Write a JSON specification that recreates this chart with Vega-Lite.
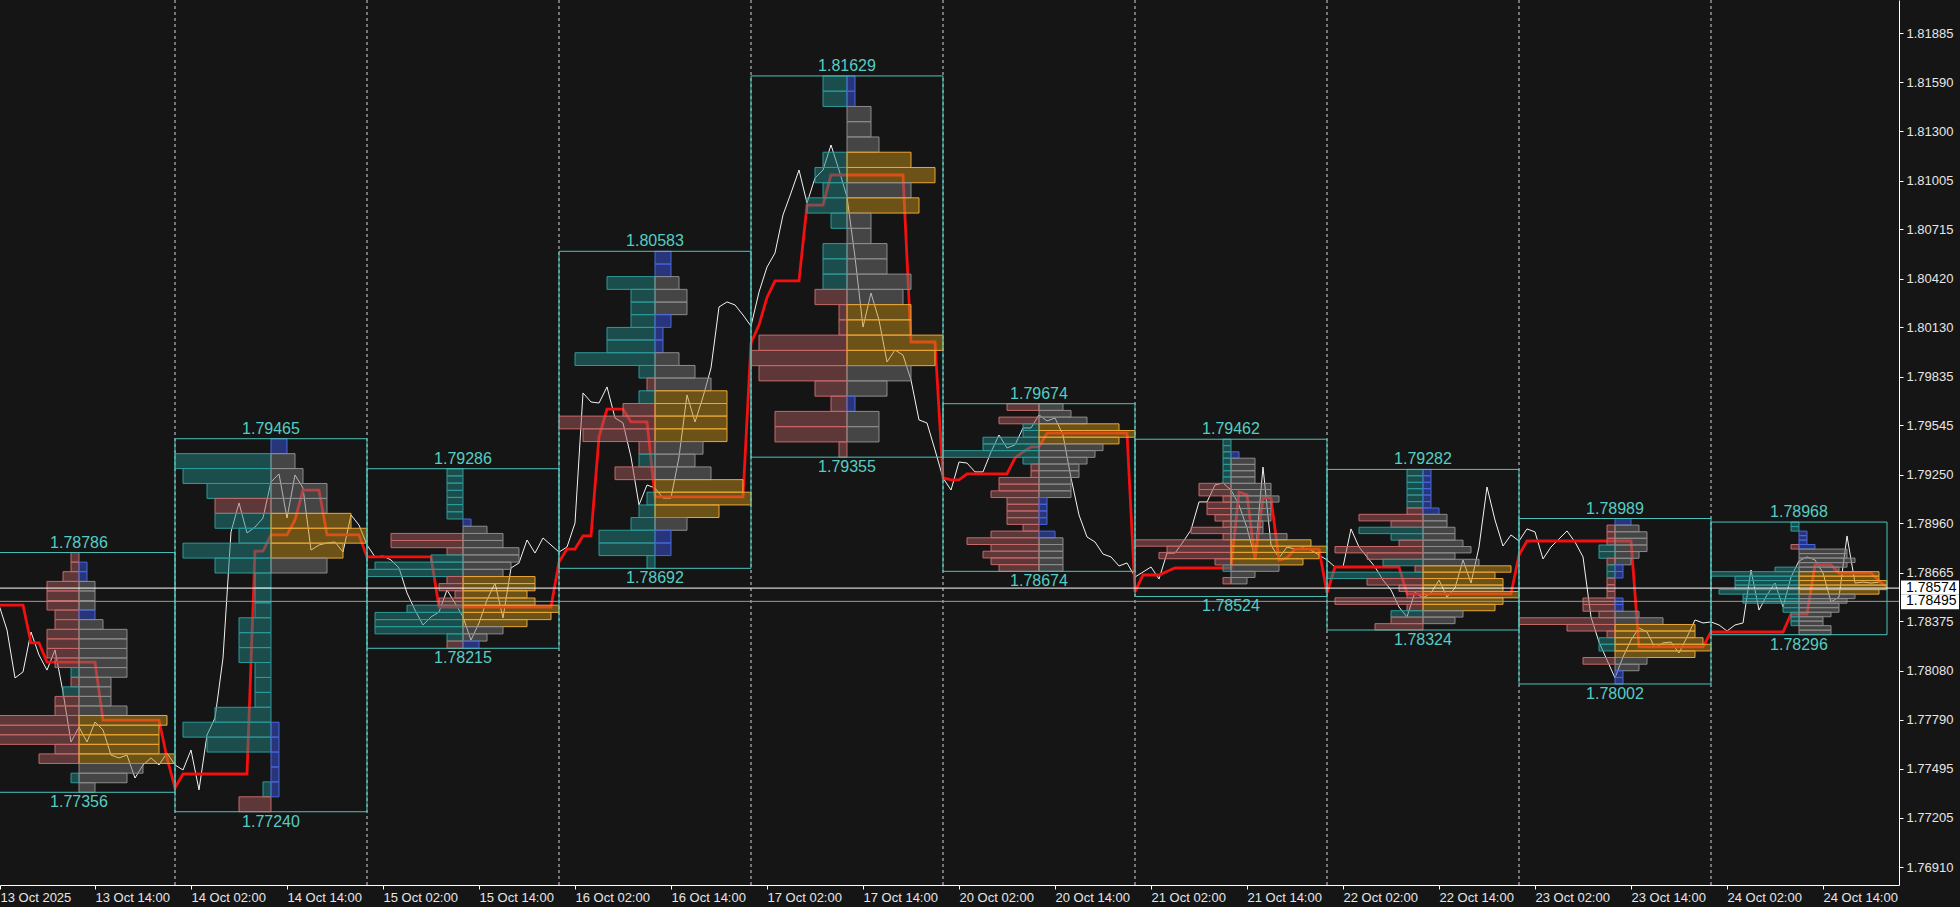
{
"$schema":"https://vega.github.io/schema/vega-lite/v6.json",
"width":1899,"height":885,
"autosize":{"type":"none"},
"padding":{"left":0,"top":0,"right":61,"bottom":22},
"background":"#151515",
"config":{"view":{"stroke":null},"font":"Liberation Sans"},
"datasets":{
"days":[
{"s":0,"e":24,"c":12,"hi":1.78786,"lo":1.77356},
{"s":24,"e":48,"c":36,"hi":1.79465,"lo":1.77240},
{"s":48,"e":72,"c":60,"hi":1.79286,"lo":1.78215},
{"s":72,"e":96,"c":84,"hi":1.80583,"lo":1.78692},
{"s":96,"e":120,"c":108,"hi":1.81629,"lo":1.79355},
{"s":120,"e":144,"c":132,"hi":1.79674,"lo":1.78674},
{"s":144,"e":168,"c":156,"hi":1.79462,"lo":1.78524},
{"s":168,"e":192,"c":180,"hi":1.79282,"lo":1.78324},
{"s":192,"e":216,"c":204,"hi":1.78989,"lo":1.78002},
{"s":216,"e":238,"c":227,"hi":1.78968,"lo":1.78296}
],
"white":[
{"h":2,"p":1.78473},{"h":3,"p":1.78324},{"h":4,"p":1.78038},{"h":5,"p":1.78074},{"h":6,"p":1.78312},{"h":7,"p":1.78175},{"h":8,"p":1.78085},{"h":9,"p":1.78205},{"h":10,"p":1.77954},{"h":11,"p":1.77656},{"h":12,"p":1.77745},{"h":13,"p":1.77656},{"h":14,"p":1.77775},{"h":15,"p":1.77728},{"h":16,"p":1.77578},{"h":17,"p":1.77561},{"h":18,"p":1.77578},{"h":19,"p":1.77441},{"h":20,"p":1.77519},{"h":21,"p":1.77561},{"h":22,"p":1.77519},{"h":23,"p":1.77590},{"h":24,"p":1.77519},{"h":25,"p":1.77489},{"h":26,"p":1.77608},{"h":27,"p":1.77370},{"h":28,"p":1.77698},{"h":29,"p":1.77799},{"h":30,"p":1.78157},{"h":31,"p":1.78909},{"h":32,"p":1.79082},{"h":33,"p":1.78903},{"h":34,"p":1.78938},{"h":35,"p":1.78992},{"h":36,"p":1.79207},{"h":37,"p":1.79255},{"h":38,"p":1.78992},{"h":39,"p":1.79249},{"h":40,"p":1.79171},{"h":41,"p":1.78801},{"h":42,"p":1.78831},{"h":43,"p":1.78843},{"h":44,"p":1.78849},{"h":45,"p":1.78789},{"h":46,"p":1.79010},{"h":47,"p":1.78950},{"h":48,"p":1.78831},{"h":49,"p":1.78760},{"h":50,"p":1.78765},{"h":51,"p":1.78742},{"h":52,"p":1.78694},{"h":53,"p":1.78545},{"h":54,"p":1.78443},{"h":55,"p":1.78354},{"h":56,"p":1.78402},{"h":57,"p":1.78431},{"h":58,"p":1.78563},{"h":59,"p":1.78485},{"h":60,"p":1.78402},{"h":61,"p":1.78264},{"h":62,"p":1.78366},{"h":63,"p":1.78503},{"h":64,"p":1.78604},{"h":65,"p":1.78396},{"h":66,"p":1.78694},{"h":67,"p":1.78724},{"h":68,"p":1.78861},{"h":69,"p":1.78783},{"h":70,"p":1.78873},{"h":71,"p":1.78831},{"h":72,"p":1.78789},{"h":73,"p":1.78819},{"h":74,"p":1.78962},{"h":75,"p":1.79738},{"h":76,"p":1.79684},{"h":77,"p":1.79678},{"h":78,"p":1.79774},{"h":79,"p":1.79589},{"h":80,"p":1.79559},{"h":81,"p":1.79356},{"h":82,"p":1.79070},{"h":83,"p":1.79189},{"h":84,"p":1.79171},{"h":85,"p":1.79111},{"h":86,"p":1.79111},{"h":87,"p":1.79356},{"h":88,"p":1.79726},{"h":89,"p":1.79565},{"h":90,"p":1.79714},{"h":91,"p":1.79887},{"h":92,"p":1.80251},{"h":93,"p":1.80281},{"h":94,"p":1.80263},{"h":95,"p":1.80203},{"h":96,"p":1.80137},{"h":97,"p":1.80340},{"h":98,"p":1.80489},{"h":99,"p":1.80573},{"h":100,"p":1.80800},{"h":101,"p":1.80931},{"h":102,"p":1.81068},{"h":103,"p":1.80871},{"h":104,"p":1.81020},{"h":105,"p":1.81068},{"h":106,"p":1.81217},{"h":107,"p":1.81068},{"h":108,"p":1.80907},{"h":109,"p":1.80549},{"h":110,"p":1.80131},{"h":111,"p":1.80334},{"h":112,"p":1.80173},{"h":113,"p":1.79923},{"h":114,"p":1.79994},{"h":115,"p":1.79964},{"h":116,"p":1.79815},{"h":117,"p":1.79577},{"h":118,"p":1.79559},{"h":119,"p":1.79398},{"h":120,"p":1.79231},{"h":121,"p":1.79159},{"h":122,"p":1.79326},{"h":123,"p":1.79320},{"h":124,"p":1.79267},{"h":125,"p":1.79267},{"h":126,"p":1.79386},{"h":127,"p":1.79487},{"h":128,"p":1.79410},{"h":129,"p":1.79428},{"h":130,"p":1.79529},{"h":131,"p":1.79529},{"h":132,"p":1.79607},{"h":133,"p":1.79571},{"h":134,"p":1.79589},{"h":135,"p":1.79487},{"h":136,"p":1.79231},{"h":137,"p":1.79010},{"h":138,"p":1.78879},{"h":139,"p":1.78849},{"h":140,"p":1.78777},{"h":141,"p":1.78760},{"h":142,"p":1.78706},{"h":143,"p":1.78724},{"h":144,"p":1.78640},{"h":145,"p":1.78670},{"h":146,"p":1.78700},{"h":147,"p":1.78628},{"h":148,"p":1.78783},{"h":149,"p":1.78783},{"h":150,"p":1.78849},{"h":151,"p":1.78921},{"h":152,"p":1.79088},{"h":153,"p":1.79088},{"h":154,"p":1.79189},{"h":155,"p":1.79201},{"h":156,"p":1.79159},{"h":157,"p":1.79070},{"h":158,"p":1.78933},{"h":159,"p":1.78754},{"h":160,"p":1.79296},{"h":161,"p":1.78831},{"h":162,"p":1.78754},{"h":163,"p":1.78819},{"h":164,"p":1.78807},{"h":165,"p":1.78813},{"h":166,"p":1.78801},{"h":167,"p":1.78771},{"h":168,"p":1.78742},{"h":169,"p":1.78700},{"h":170,"p":1.78700},{"h":171,"p":1.78927},{"h":172,"p":1.78819},{"h":173,"p":1.78760},{"h":174,"p":1.78700},{"h":175,"p":1.78622},{"h":176,"p":1.78563},{"h":177,"p":1.78461},{"h":178,"p":1.78402},{"h":179,"p":1.78551},{"h":180,"p":1.78515},{"h":181,"p":1.78545},{"h":182,"p":1.78622},{"h":183,"p":1.78521},{"h":184,"p":1.78575},{"h":185,"p":1.78742},{"h":186,"p":1.78604},{"h":187,"p":1.78819},{"h":188,"p":1.79177},{"h":189,"p":1.78980},{"h":190,"p":1.78825},{"h":191,"p":1.78891},{"h":192,"p":1.78855},{"h":193,"p":1.78927},{"h":194,"p":1.78909},{"h":195,"p":1.78748},{"h":196,"p":1.78819},{"h":197,"p":1.78867},{"h":198,"p":1.78915},{"h":199,"p":1.78849},{"h":200,"p":1.78760},{"h":201,"p":1.78402},{"h":202,"p":1.78252},{"h":203,"p":1.78145},{"h":204,"p":1.78038},{"h":205,"p":1.78163},{"h":206,"p":1.78264},{"h":207,"p":1.78336},{"h":208,"p":1.78312},{"h":209,"p":1.78217},{"h":210,"p":1.78247},{"h":211,"p":1.78252},{"h":212,"p":1.78187},{"h":213,"p":1.78282},{"h":214,"p":1.78384},{"h":215,"p":1.78366},{"h":216,"p":1.78372},{"h":217,"p":1.78354},{"h":218,"p":1.78318},{"h":219,"p":1.78354},{"h":220,"p":1.78366},{"h":221,"p":1.78682},{"h":222,"p":1.78443},{"h":223,"p":1.78533},{"h":224,"p":1.78604},{"h":225,"p":1.78461},{"h":226,"p":1.78640},{"h":227,"p":1.78736},{"h":228,"p":1.78760},{"h":229,"p":1.78742},{"h":230,"p":1.78664},{"h":231,"p":1.78491},{"h":232,"p":1.78521},{"h":233,"p":1.78885},{"h":234,"p":1.78604},{"h":235,"p":1.78610},{"h":236,"p":1.78604},{"h":237,"p":1.78610},{"h":238,"p":1.78587}
],
"red":[
{"h":2,"p":1.78473},{"h":5,"p":1.78473},{"h":6,"p":1.78247},{"h":7,"p":1.78247},{"h":8,"p":1.78133},{"h":14,"p":1.78133},{"h":15,"p":1.77787},{"h":22,"p":1.77787},{"h":23,"p":1.77561},{"h":24,"p":1.77382},{"h":25,"p":1.77465},{"h":33,"p":1.77465},{"h":34,"p":1.78795},{"h":35,"p":1.78795},{"h":36,"p":1.78891},{"h":38,"p":1.78891},{"h":39,"p":1.78980},{"h":40,"p":1.79159},{"h":42,"p":1.79159},{"h":43,"p":1.78891},{"h":47,"p":1.78891},{"h":48,"p":1.78760},{"h":56,"p":1.78760},{"h":57,"p":1.78461},{"h":71,"p":1.78461},{"h":72,"p":1.78730},{"h":73,"p":1.78807},{"h":74,"p":1.78807},{"h":75,"p":1.78885},{"h":76,"p":1.78885},{"h":77,"p":1.79475},{"h":78,"p":1.79642},{"h":80,"p":1.79642},{"h":81,"p":1.79565},{"h":83,"p":1.79565},{"h":84,"p":1.79118},{"h":95,"p":1.79118},{"h":96,"p":1.80036},{"h":97,"p":1.80143},{"h":98,"p":1.80308},{"h":99,"p":1.80406},{"h":102,"p":1.80406},{"h":103,"p":1.80859},{"h":105,"p":1.80859},{"h":106,"p":1.81038},{"h":115,"p":1.81038},{"h":116,"p":1.80042},{"h":119,"p":1.80042},{"h":120,"p":1.79231},{"h":121,"p":1.79219},{"h":122,"p":1.79219},{"h":123,"p":1.79255},{"h":128,"p":1.79255},{"h":129,"p":1.79350},{"h":130,"p":1.79386},{"h":131,"p":1.79416},{"h":132,"p":1.79416},{"h":133,"p":1.79499},{"h":143,"p":1.79499},{"h":144,"p":1.78551},{"h":145,"p":1.78652},{"h":147,"p":1.78652},{"h":149,"p":1.78694},{"h":156,"p":1.78694},{"h":157,"p":1.79147},{"h":158,"p":1.79130},{"h":159,"p":1.78742},{"h":160,"p":1.79111},{"h":161,"p":1.79111},{"h":162,"p":1.78742},{"h":163,"p":1.78754},{"h":164,"p":1.78807},{"h":167,"p":1.78807},{"h":168,"p":1.78545},{"h":169,"p":1.78700},{"h":177,"p":1.78700},{"h":178,"p":1.78539},{"h":191,"p":1.78539},{"h":192,"p":1.78771},{"h":193,"p":1.78855},{"h":206,"p":1.78855},{"h":207,"p":1.78223},{"h":215,"p":1.78223},{"h":216,"p":1.78312},{"h":225,"p":1.78312},{"h":226,"p":1.78419},{"h":228,"p":1.78419},{"h":229,"p":1.78712},{"h":231,"p":1.78712},{"h":232,"p":1.78664},{"h":236,"p":1.78664},{"h":237,"p":1.78616},{"h":238,"p":1.78580}
],
"prof":[
{"c":12,"t":1.78786,"b":1.78729,"L":11,"lc":"r"},
{"c":12,"t":1.78729,"b":1.78672,"L":11,"lc":"r","R":13,"rc":"b"},
{"c":12,"t":1.78672,"b":1.78614,"L":10,"lc":"r","R":13,"rc":"b"},
{"c":12,"t":1.78614,"b":1.78557,"L":8,"lc":"r","R":14,"rc":"g"},
{"c":12,"t":1.78557,"b":1.78500,"L":8,"lc":"r","R":14,"rc":"g"},
{"c":12,"t":1.78500,"b":1.78443,"L":8,"lc":"r","R":14,"rc":"g"},
{"c":12,"t":1.78443,"b":1.78386,"L":9,"lc":"r","R":14,"rc":"b"},
{"c":12,"t":1.78386,"b":1.78328,"L":9,"lc":"r","R":15,"rc":"g"},
{"c":12,"t":1.78328,"b":1.78271,"L":8,"lc":"r","R":18,"rc":"g"},
{"c":12,"t":1.78271,"b":1.78214,"L":8,"lc":"r","R":18,"rc":"g"},
{"c":12,"t":1.78214,"b":1.78157,"L":8,"lc":"r","R":18,"rc":"g"},
{"c":12,"t":1.78157,"b":1.78100,"L":9,"lc":"r","R":18,"rc":"g"},
{"c":12,"t":1.78100,"b":1.78042,"L":11,"lc":"t","R":18,"rc":"g"},
{"c":12,"t":1.78042,"b":1.77985,"L":11,"lc":"r","R":16,"rc":"g"},
{"c":12,"t":1.77985,"b":1.77928,"L":10,"lc":"t","R":16,"rc":"g"},
{"c":12,"t":1.77928,"b":1.77871,"L":9,"lc":"r","R":16,"rc":"g"},
{"c":12,"t":1.77871,"b":1.77814,"L":9,"lc":"r","R":18,"rc":"g"},
{"c":12,"t":1.77814,"b":1.77756,"L":1,"lc":"r","R":23,"rc":"o"},
{"c":12,"t":1.77756,"b":1.77699,"L":1,"lc":"r","R":22,"rc":"o"},
{"c":12,"t":1.77699,"b":1.77642,"L":1,"lc":"r","R":22,"rc":"o"},
{"c":12,"t":1.77642,"b":1.77585,"L":9,"lc":"r","R":22,"rc":"o"},
{"c":12,"t":1.77585,"b":1.77528,"L":7,"lc":"r","R":24,"rc":"o"},
{"c":12,"t":1.77528,"b":1.77470,"R":20,"rc":"g"},
{"c":12,"t":1.77470,"b":1.77413,"L":11,"lc":"t","R":18,"rc":"g"},
{"c":12,"t":1.77413,"b":1.77356,"R":14,"rc":"g"},
{"c":36,"t":1.79465,"b":1.79376,"R":38,"rc":"b"},
{"c":36,"t":1.79376,"b":1.79287,"L":24,"lc":"t","R":39,"rc":"g"},
{"c":36,"t":1.79287,"b":1.79198,"L":25,"lc":"t","R":40,"rc":"g"},
{"c":36,"t":1.79198,"b":1.79109,"L":28,"lc":"t","R":43,"rc":"g"},
{"c":36,"t":1.79109,"b":1.79020,"L":29,"lc":"r","R":43,"rc":"g"},
{"c":36,"t":1.79020,"b":1.78931,"L":29,"lc":"t","R":46,"rc":"o"},
{"c":36,"t":1.78931,"b":1.78842,"L":32,"lc":"t","R":48,"rc":"o"},
{"c":36,"t":1.78842,"b":1.78753,"L":25,"lc":"t","R":45,"rc":"o"},
{"c":36,"t":1.78753,"b":1.78664,"L":29,"lc":"t","R":43,"rc":"g"},
{"c":36,"t":1.78664,"b":1.78575,"L":34,"lc":"t"},
{"c":36,"t":1.78575,"b":1.78486,"L":34,"lc":"t"},
{"c":36,"t":1.78486,"b":1.78397,"L":34,"lc":"t"},
{"c":36,"t":1.78397,"b":1.78308,"L":32,"lc":"t"},
{"c":36,"t":1.78308,"b":1.78219,"L":32,"lc":"t"},
{"c":36,"t":1.78219,"b":1.78130,"L":32,"lc":"t"},
{"c":36,"t":1.78130,"b":1.78041,"L":34,"lc":"t"},
{"c":36,"t":1.78041,"b":1.77952,"L":34,"lc":"t"},
{"c":36,"t":1.77952,"b":1.77863,"L":34,"lc":"t"},
{"c":36,"t":1.77863,"b":1.77774,"L":29,"lc":"t"},
{"c":36,"t":1.77774,"b":1.77685,"L":25,"lc":"t","R":37,"rc":"b"},
{"c":36,"t":1.77685,"b":1.77596,"L":28,"lc":"t","R":37,"rc":"b"},
{"c":36,"t":1.77596,"b":1.77507,"R":37,"rc":"b"},
{"c":36,"t":1.77507,"b":1.77418,"R":37,"rc":"b"},
{"c":36,"t":1.77418,"b":1.77329,"L":35,"lc":"t","R":37,"rc":"b"},
{"c":36,"t":1.77329,"b":1.77240,"L":32,"lc":"r"},
{"c":60,"t":1.79286,"b":1.79243,"L":58,"lc":"t"},
{"c":60,"t":1.79243,"b":1.79200,"L":58,"lc":"t"},
{"c":60,"t":1.79200,"b":1.79157,"L":58,"lc":"t"},
{"c":60,"t":1.79157,"b":1.79115,"L":58,"lc":"t"},
{"c":60,"t":1.79115,"b":1.79072,"L":58,"lc":"t"},
{"c":60,"t":1.79072,"b":1.79029,"L":58,"lc":"t"},
{"c":60,"t":1.79029,"b":1.78986,"L":58,"lc":"t"},
{"c":60,"t":1.78986,"b":1.78943,"R":61,"rc":"b"},
{"c":60,"t":1.78943,"b":1.78900,"R":63,"rc":"g"},
{"c":60,"t":1.78900,"b":1.78858,"L":51,"lc":"r","R":65,"rc":"g"},
{"c":60,"t":1.78858,"b":1.78815,"L":51,"lc":"r","R":65,"rc":"g"},
{"c":60,"t":1.78815,"b":1.78772,"L":58,"lc":"r","R":67,"rc":"g"},
{"c":60,"t":1.78772,"b":1.78729,"L":56,"lc":"t","R":67,"rc":"g"},
{"c":60,"t":1.78729,"b":1.78686,"L":49,"lc":"t","R":66,"rc":"g"},
{"c":60,"t":1.78686,"b":1.78643,"L":48,"lc":"t","R":65,"rc":"g"},
{"c":60,"t":1.78643,"b":1.78601,"L":58,"lc":"r","R":69,"rc":"o"},
{"c":60,"t":1.78601,"b":1.78558,"L":57,"lc":"r","R":69,"rc":"o"},
{"c":60,"t":1.78558,"b":1.78515,"L":59,"lc":"r","R":68,"rc":"o"},
{"c":60,"t":1.78515,"b":1.78472,"L":57,"lc":"r","R":69,"rc":"o"},
{"c":60,"t":1.78472,"b":1.78429,"L":53,"lc":"t","R":72,"rc":"o"},
{"c":60,"t":1.78429,"b":1.78386,"L":49,"lc":"t","R":71,"rc":"o"},
{"c":60,"t":1.78386,"b":1.78344,"L":49,"lc":"t","R":68,"rc":"o"},
{"c":60,"t":1.78344,"b":1.78301,"L":49,"lc":"t","R":65,"rc":"g"},
{"c":60,"t":1.78301,"b":1.78258,"L":58,"lc":"t","R":63,"rc":"g"},
{"c":60,"t":1.78258,"b":1.78215,"L":58,"lc":"r","R":62,"rc":"b"},
{"c":84,"t":1.80583,"b":1.80507,"R":86,"rc":"b"},
{"c":84,"t":1.80507,"b":1.80432,"R":86,"rc":"b"},
{"c":84,"t":1.80432,"b":1.80356,"L":78,"lc":"t","R":87,"rc":"g"},
{"c":84,"t":1.80356,"b":1.80280,"L":81,"lc":"t","R":88,"rc":"g"},
{"c":84,"t":1.80280,"b":1.80205,"L":81,"lc":"t","R":88,"rc":"g"},
{"c":84,"t":1.80205,"b":1.80129,"L":81,"lc":"t","R":86,"rc":"b"},
{"c":84,"t":1.80129,"b":1.80054,"L":78,"lc":"t","R":85,"rc":"b"},
{"c":84,"t":1.80054,"b":1.79978,"L":78,"lc":"t","R":85,"rc":"b"},
{"c":84,"t":1.79978,"b":1.79902,"L":74,"lc":"t","R":87,"rc":"g"},
{"c":84,"t":1.79902,"b":1.79827,"L":82,"lc":"t","R":89,"rc":"g"},
{"c":84,"t":1.79827,"b":1.79751,"L":83,"lc":"r","R":91,"rc":"g"},
{"c":84,"t":1.79751,"b":1.79675,"L":82,"lc":"t","R":93,"rc":"o"},
{"c":84,"t":1.79675,"b":1.79600,"L":80,"lc":"r","R":93,"rc":"o"},
{"c":84,"t":1.79600,"b":1.79524,"L":72,"lc":"r","R":93,"rc":"o"},
{"c":84,"t":1.79524,"b":1.79448,"L":75,"lc":"r","R":93,"rc":"o"},
{"c":84,"t":1.79448,"b":1.79373,"L":82,"lc":"r","R":90,"rc":"g"},
{"c":84,"t":1.79373,"b":1.79297,"L":82,"lc":"t","R":89,"rc":"g"},
{"c":84,"t":1.79297,"b":1.79221,"L":79,"lc":"r","R":91,"rc":"g"},
{"c":84,"t":1.79221,"b":1.79146,"R":95,"rc":"o"},
{"c":84,"t":1.79146,"b":1.79070,"L":83,"lc":"t","R":96,"rc":"o"},
{"c":84,"t":1.79070,"b":1.78995,"L":82,"lc":"t","R":92,"rc":"o"},
{"c":84,"t":1.78995,"b":1.78919,"L":81,"lc":"t","R":88,"rc":"g"},
{"c":84,"t":1.78919,"b":1.78843,"L":77,"lc":"t","R":86,"rc":"b"},
{"c":84,"t":1.78843,"b":1.78768,"L":77,"lc":"t","R":86,"rc":"b"},
{"c":84,"t":1.78768,"b":1.78692,"L":83,"lc":"t"},
{"c":108,"t":1.81629,"b":1.81538,"L":105,"lc":"t","R":109,"rc":"b"},
{"c":108,"t":1.81538,"b":1.81447,"L":105,"lc":"t","R":109,"rc":"b"},
{"c":108,"t":1.81447,"b":1.81356,"R":111,"rc":"g"},
{"c":108,"t":1.81356,"b":1.81265,"R":111,"rc":"g"},
{"c":108,"t":1.81265,"b":1.81174,"R":112,"rc":"g"},
{"c":108,"t":1.81174,"b":1.81083,"L":105,"lc":"t","R":116,"rc":"o"},
{"c":108,"t":1.81083,"b":1.80992,"L":104,"lc":"t","R":119,"rc":"o"},
{"c":108,"t":1.80992,"b":1.80902,"L":105,"lc":"t","R":116,"rc":"g"},
{"c":108,"t":1.80902,"b":1.80811,"L":103,"lc":"t","R":117,"rc":"o"},
{"c":108,"t":1.80811,"b":1.80720,"L":106,"lc":"t","R":111,"rc":"g"},
{"c":108,"t":1.80720,"b":1.80629,"R":111,"rc":"g"},
{"c":108,"t":1.80629,"b":1.80538,"L":105,"lc":"t","R":113,"rc":"g"},
{"c":108,"t":1.80538,"b":1.80447,"L":105,"lc":"t","R":113,"rc":"g"},
{"c":108,"t":1.80447,"b":1.80356,"L":105,"lc":"t","R":116,"rc":"g"},
{"c":108,"t":1.80356,"b":1.80265,"L":104,"lc":"r","R":115,"rc":"g"},
{"c":108,"t":1.80265,"b":1.80174,"L":107,"lc":"r","R":116,"rc":"o"},
{"c":108,"t":1.80174,"b":1.80083,"L":107,"lc":"r","R":116,"rc":"o"},
{"c":108,"t":1.80083,"b":1.79992,"L":97,"lc":"r","R":120,"rc":"o"},
{"c":108,"t":1.79992,"b":1.79901,"L":96,"lc":"r","R":119,"rc":"o"},
{"c":108,"t":1.79901,"b":1.79810,"L":97,"lc":"r","R":116,"rc":"g"},
{"c":108,"t":1.79810,"b":1.79719,"L":104,"lc":"r","R":113,"rc":"g"},
{"c":108,"t":1.79719,"b":1.79628,"L":106,"lc":"r","R":109,"rc":"b"},
{"c":108,"t":1.79628,"b":1.79537,"L":99,"lc":"r","R":112,"rc":"g"},
{"c":108,"t":1.79537,"b":1.79446,"L":99,"lc":"r","R":112,"rc":"g"},
{"c":108,"t":1.79446,"b":1.79355,"L":107,"lc":"r"},
{"c":132,"t":1.79674,"b":1.79634,"L":128,"lc":"r","R":135,"rc":"g"},
{"c":132,"t":1.79634,"b":1.79594,"R":136,"rc":"g"},
{"c":132,"t":1.79594,"b":1.79554,"L":127,"lc":"r","R":138,"rc":"g"},
{"c":132,"t":1.79554,"b":1.79514,"L":130,"lc":"t","R":142,"rc":"o"},
{"c":132,"t":1.79514,"b":1.79474,"L":130,"lc":"t","R":144,"rc":"o"},
{"c":132,"t":1.79474,"b":1.79434,"L":125,"lc":"t","R":142,"rc":"o"},
{"c":132,"t":1.79434,"b":1.79394,"L":125,"lc":"t","R":140,"rc":"g"},
{"c":132,"t":1.79394,"b":1.79354,"L":120,"lc":"t","R":139,"rc":"g"},
{"c":132,"t":1.79354,"b":1.79314,"L":130,"lc":"t","R":138,"rc":"g"},
{"c":132,"t":1.79314,"b":1.79274,"L":131,"lc":"r","R":137,"rc":"g"},
{"c":132,"t":1.79274,"b":1.79234,"L":131,"lc":"r","R":137,"rc":"g"},
{"c":132,"t":1.79234,"b":1.79194,"L":127,"lc":"r","R":136,"rc":"g"},
{"c":132,"t":1.79194,"b":1.79154,"L":127,"lc":"r","R":136,"rc":"g"},
{"c":132,"t":1.79154,"b":1.79114,"L":126,"lc":"r","R":136,"rc":"g"},
{"c":132,"t":1.79114,"b":1.79074,"L":128,"lc":"r","R":133,"rc":"b"},
{"c":132,"t":1.79074,"b":1.79034,"L":128,"lc":"r","R":133,"rc":"b"},
{"c":132,"t":1.79034,"b":1.78994,"L":128,"lc":"r","R":133,"rc":"b"},
{"c":132,"t":1.78994,"b":1.78954,"L":128,"lc":"r","R":133,"rc":"b"},
{"c":132,"t":1.78954,"b":1.78914,"L":130,"lc":"r"},
{"c":132,"t":1.78914,"b":1.78874,"L":126,"lc":"r","R":134,"rc":"b"},
{"c":132,"t":1.78874,"b":1.78834,"L":123,"lc":"r","R":135,"rc":"g"},
{"c":132,"t":1.78834,"b":1.78794,"L":126,"lc":"r","R":135,"rc":"g"},
{"c":132,"t":1.78794,"b":1.78754,"L":125,"lc":"r","R":135,"rc":"g"},
{"c":132,"t":1.78754,"b":1.78714,"L":126,"lc":"r","R":135,"rc":"g"},
{"c":132,"t":1.78714,"b":1.78674,"L":127,"lc":"r","R":135,"rc":"g"},
{"c":156,"t":1.79462,"b":1.79424,"L":155,"lc":"t"},
{"c":156,"t":1.79424,"b":1.79387,"L":155,"lc":"t"},
{"c":156,"t":1.79387,"b":1.79349,"L":155,"lc":"t","R":157,"rc":"b"},
{"c":156,"t":1.79349,"b":1.79312,"L":155,"lc":"t","R":159,"rc":"g"},
{"c":156,"t":1.79312,"b":1.79274,"L":155,"lc":"t","R":159,"rc":"g"},
{"c":156,"t":1.79274,"b":1.79237,"L":155,"lc":"t","R":159,"rc":"g"},
{"c":156,"t":1.79237,"b":1.79199,"L":155,"lc":"t","R":159,"rc":"g"},
{"c":156,"t":1.79199,"b":1.79162,"L":152,"lc":"r","R":161,"rc":"g"},
{"c":156,"t":1.79162,"b":1.79124,"L":152,"lc":"r","R":161,"rc":"g"},
{"c":156,"t":1.79124,"b":1.79087,"L":155,"lc":"r","R":162,"rc":"g"},
{"c":156,"t":1.79087,"b":1.79049,"L":153,"lc":"r","R":161,"rc":"g"},
{"c":156,"t":1.79049,"b":1.79012,"L":153,"lc":"r","R":161,"rc":"g"},
{"c":156,"t":1.79012,"b":1.78974,"L":154,"lc":"r","R":161,"rc":"g"},
{"c":156,"t":1.78974,"b":1.78937,"L":155,"lc":"r","R":160,"rc":"g"},
{"c":156,"t":1.78937,"b":1.78899,"L":151,"lc":"r","R":160,"rc":"g"},
{"c":156,"t":1.78899,"b":1.78862,"L":155,"lc":"r","R":163,"rc":"g"},
{"c":156,"t":1.78862,"b":1.78824,"L":144,"lc":"r","R":166,"rc":"o"},
{"c":156,"t":1.78824,"b":1.78787,"L":148,"lc":"r","R":168,"rc":"o"},
{"c":156,"t":1.78787,"b":1.78749,"L":147,"lc":"r","R":167,"rc":"o"},
{"c":156,"t":1.78749,"b":1.78712,"L":154,"lc":"r","R":165,"rc":"o"},
{"c":156,"t":1.78712,"b":1.78674,"L":155,"lc":"t","R":162,"rc":"g"},
{"c":156,"t":1.78674,"b":1.78637,"R":159,"rc":"g"},
{"c":156,"t":1.78637,"b":1.78599,"L":155,"lc":"r","R":158,"rc":"g"},
{"c":180,"t":1.79282,"b":1.79244,"L":178,"lc":"t","R":181,"rc":"b"},
{"c":180,"t":1.79244,"b":1.79205,"L":178,"lc":"t","R":181,"rc":"b"},
{"c":180,"t":1.79205,"b":1.79167,"L":178,"lc":"t","R":181,"rc":"b"},
{"c":180,"t":1.79167,"b":1.79129,"L":178,"lc":"t","R":181,"rc":"b"},
{"c":180,"t":1.79129,"b":1.79090,"L":178,"lc":"t","R":181,"rc":"b"},
{"c":180,"t":1.79090,"b":1.79052,"L":178,"lc":"t","R":181,"rc":"b"},
{"c":180,"t":1.79052,"b":1.79014,"L":178,"lc":"r","R":182,"rc":"b"},
{"c":180,"t":1.79014,"b":1.78975,"L":172,"lc":"r","R":183,"rc":"g"},
{"c":180,"t":1.78975,"b":1.78937,"L":176,"lc":"r","R":183,"rc":"g"},
{"c":180,"t":1.78937,"b":1.78899,"L":172,"lc":"t","R":184,"rc":"g"},
{"c":180,"t":1.78899,"b":1.78860,"L":176,"lc":"t","R":184,"rc":"g"},
{"c":180,"t":1.78860,"b":1.78822,"L":177,"lc":"r","R":185,"rc":"g"},
{"c":180,"t":1.78822,"b":1.78784,"L":169,"lc":"r","R":186,"rc":"g"},
{"c":180,"t":1.78784,"b":1.78746,"L":173,"lc":"r","R":184,"rc":"g"},
{"c":180,"t":1.78746,"b":1.78707,"L":175,"lc":"t","R":187,"rc":"g"},
{"c":180,"t":1.78707,"b":1.78669,"L":179,"lc":"r","R":191,"rc":"o"},
{"c":180,"t":1.78669,"b":1.78631,"L":168,"lc":"t","R":189,"rc":"o"},
{"c":180,"t":1.78631,"b":1.78592,"L":173,"lc":"r","R":190,"rc":"o"},
{"c":180,"t":1.78592,"b":1.78554,"L":177,"lc":"r","R":190,"rc":"o"},
{"c":180,"t":1.78554,"b":1.78516,"L":178,"lc":"r","R":192,"rc":"o"},
{"c":180,"t":1.78516,"b":1.78477,"L":169,"lc":"r","R":190,"rc":"o"},
{"c":180,"t":1.78477,"b":1.78439,"L":178,"lc":"r","R":189,"rc":"o"},
{"c":180,"t":1.78439,"b":1.78401,"L":176,"lc":"t","R":185,"rc":"g"},
{"c":180,"t":1.78401,"b":1.78362,"L":176,"lc":"r","R":184,"rc":"g"},
{"c":180,"t":1.78362,"b":1.78324,"L":174,"lc":"r"},
{"c":204,"t":1.78989,"b":1.78950,"R":206,"rc":"b"},
{"c":204,"t":1.78950,"b":1.78910,"L":203,"lc":"r","R":207,"rc":"g"},
{"c":204,"t":1.78910,"b":1.78871,"L":203,"lc":"r","R":208,"rc":"g"},
{"c":204,"t":1.78871,"b":1.78831,"L":203,"lc":"r","R":208,"rc":"g"},
{"c":204,"t":1.78831,"b":1.78792,"L":202,"lc":"t","R":208,"rc":"g"},
{"c":204,"t":1.78792,"b":1.78752,"L":202,"lc":"t","R":207,"rc":"g"},
{"c":204,"t":1.78752,"b":1.78713,"L":203,"lc":"r","R":206,"rc":"g"},
{"c":204,"t":1.78713,"b":1.78673,"L":203,"lc":"t","R":205,"rc":"b"},
{"c":204,"t":1.78673,"b":1.78634,"L":203,"lc":"t","R":205,"rc":"b"},
{"c":204,"t":1.78634,"b":1.78594,"L":203,"lc":"r"},
{"c":204,"t":1.78594,"b":1.78555,"L":203,"lc":"r"},
{"c":204,"t":1.78555,"b":1.78515,"L":203,"lc":"r"},
{"c":204,"t":1.78515,"b":1.78476,"L":200,"lc":"r","R":205,"rc":"b"},
{"c":204,"t":1.78476,"b":1.78436,"L":200,"lc":"r","R":205,"rc":"b"},
{"c":204,"t":1.78436,"b":1.78397,"L":202,"lc":"r","R":207,"rc":"g"},
{"c":204,"t":1.78397,"b":1.78357,"L":192,"lc":"r","R":210,"rc":"g"},
{"c":204,"t":1.78357,"b":1.78318,"L":198,"lc":"r","R":214,"rc":"o"},
{"c":204,"t":1.78318,"b":1.78278,"L":203,"lc":"r","R":214,"rc":"o"},
{"c":204,"t":1.78278,"b":1.78239,"L":202,"lc":"t","R":215,"rc":"o"},
{"c":204,"t":1.78239,"b":1.78199,"L":202,"lc":"t","R":216,"rc":"o"},
{"c":204,"t":1.78199,"b":1.78160,"R":214,"rc":"o"},
{"c":204,"t":1.78160,"b":1.78120,"L":200,"lc":"r","R":208,"rc":"g"},
{"c":204,"t":1.78120,"b":1.78081,"R":207,"rc":"g"},
{"c":204,"t":1.78081,"b":1.78041,"R":205,"rc":"b"},
{"c":204,"t":1.78041,"b":1.78002,"R":205,"rc":"b"},
{"c":227,"t":1.78968,"b":1.78941,"L":226,"lc":"t"},
{"c":227,"t":1.78941,"b":1.78914,"L":226,"lc":"t"},
{"c":227,"t":1.78914,"b":1.78887,"R":228,"rc":"b"},
{"c":227,"t":1.78887,"b":1.78860,"R":228,"rc":"b"},
{"c":227,"t":1.78860,"b":1.78834,"R":228,"rc":"b"},
{"c":227,"t":1.78834,"b":1.78807,"L":226,"lc":"r","R":229,"rc":"b"},
{"c":227,"t":1.78807,"b":1.78780,"R":233,"rc":"g"},
{"c":227,"t":1.78780,"b":1.78753,"R":233,"rc":"g"},
{"c":227,"t":1.78753,"b":1.78726,"R":234,"rc":"g"},
{"c":227,"t":1.78726,"b":1.78699,"R":233,"rc":"g"},
{"c":227,"t":1.78699,"b":1.78672,"L":224,"lc":"t","R":232,"rc":"g"},
{"c":227,"t":1.78672,"b":1.78645,"L":216,"lc":"t","R":237,"rc":"o"},
{"c":227,"t":1.78645,"b":1.78619,"L":219,"lc":"t","R":237,"rc":"o"},
{"c":227,"t":1.78619,"b":1.78592,"L":219,"lc":"t","R":238,"rc":"o"},
{"c":227,"t":1.78592,"b":1.78565,"L":219,"lc":"t","R":238,"rc":"o"},
{"c":227,"t":1.78565,"b":1.78538,"L":217,"lc":"t","R":237,"rc":"o"},
{"c":227,"t":1.78538,"b":1.78511,"L":220,"lc":"t","R":234,"rc":"g"},
{"c":227,"t":1.78511,"b":1.78484,"L":220,"lc":"t","R":233,"rc":"g"},
{"c":227,"t":1.78484,"b":1.78457,"L":225,"lc":"t","R":232,"rc":"g"},
{"c":227,"t":1.78457,"b":1.78430,"L":225,"lc":"t","R":232,"rc":"g"},
{"c":227,"t":1.78430,"b":1.78403,"L":226,"lc":"t","R":231,"rc":"g"},
{"c":227,"t":1.78403,"b":1.78377,"L":226,"lc":"t","R":230,"rc":"g"},
{"c":227,"t":1.78377,"b":1.78350,"L":226,"lc":"t","R":230,"rc":"g"},
{"c":227,"t":1.78350,"b":1.78323,"R":231,"rc":"g"},
{"c":227,"t":1.78323,"b":1.78296,"R":231,"rc":"g"}
],
"cur":[
{"p":1.78574,"k":"a","t":1.78620,"b":1.78535,"x":239.75,"x2":247},
{"p":1.78495,"k":"b","t":1.78535,"b":1.78448,"x":239.75,"x2":247}
]
},
"layer":[
{
"data":{"name":"white"},
"mark":{"type":"line","color":"#f2f2f2","strokeWidth":1,"clip":true},
"encoding":{
"x":{"field":"h","type":"quantitative","title":null,
"scale":{"domain":[2.125,239.5],"nice":false,"zero":false},
"axis":{"orient":"bottom","values":[2.125,14,26,38,50,62,74,86,98,110,122,134,146,158,170,182,194,206,218,230],
"labelExpr":"datum.value < 3 ? '13 Oct 2025' : ['13 Oct','14 Oct','15 Oct','16 Oct','17 Oct','20 Oct','21 Oct','22 Oct','23 Oct','24 Oct'][floor(datum.value/24)] + (datum.value % 24 == 2 ? ' 02:00' : ' 14:00')",
"labelAlign":"left","labelBaseline":"top","labelPadding":2,"tickSize":4,"labelFlush":false,"labelOverlap":false,
"grid":false,"domainColor":"#ffffff","tickColor":"#ffffff","labelColor":"#e6e6e6","labelFont":"Liberation Sans","labelFontSize":13}},
"y":{"field":"p","type":"quantitative","title":null,
"scale":{"domain":[1.76803,1.82082],"nice":false,"zero":false},
"axis":{"orient":"right","values":[1.81885,1.8159,1.813,1.81005,1.80715,1.8042,1.8013,1.79835,1.79545,1.7925,1.7896,1.78665,1.78375,1.7808,1.7779,1.77495,1.77205,1.7691],
"format":".5f","labelAlign":"left","labelBaseline":"middle","labelPadding":3,"tickSize":4,"labelFlush":false,"labelOverlap":false,
"grid":false,"domainColor":"#ffffff","tickColor":"#ffffff","labelColor":"#e6e6e6","labelFont":"Liberation Sans","labelFontSize":13}}
}
},
{
"data":{"name":"days"},
"transform":[{"filter":"datum.s > 0"}],
"mark":{"type":"rule","color":"#d8d8d8","strokeDash":[3,3],"strokeWidth":1},
"encoding":{
"x":{"field":"s","type":"quantitative","title":null}
}
},
{
"data":{"name":"red"},
"mark":{"type":"line","color":"#f51010","strokeWidth":2.8,"clip":true},
"encoding":{
"x":{"field":"h","type":"quantitative","title":null},
"y":{"field":"p","type":"quantitative","title":null}
}
},
{
"data":{"name":"prof"},
"transform":[{"filter":"isValid(datum.L)"}],
"mark":{"type":"rect","fillOpacity":0.5,"strokeWidth":1,"clip":true},
"encoding":{
"x":{"field":"c","type":"quantitative","title":null},
"x2":{"field":"L","title":null},
"y":{"field":"t","type":"quantitative","title":null},
"y2":{"field":"b","title":null},
"fill":{"field":"lc","type":"nominal","legend":null,"scale":{"domain":["r","t","g","o","b"],"range":["#a85c5c","#238585","#757575","#c49019","#3d55df"]}},
"stroke":{"field":"lc","type":"nominal","legend":null,"scale":{"domain":["r","t","g","o","b"],"range":["#c66868","#2e9a9a","#8c8c8c","#eaa636","#4668dc"]}}
}
},
{
"data":{"name":"prof"},
"transform":[{"filter":"isValid(datum.R)"}],
"mark":{"type":"rect","fillOpacity":0.5,"strokeWidth":1,"clip":true},
"encoding":{
"x":{"field":"c","type":"quantitative","title":null},
"x2":{"field":"R","title":null},
"y":{"field":"t","type":"quantitative","title":null},
"y2":{"field":"b","title":null},
"fill":{"field":"rc","type":"nominal","legend":null,"scale":{"domain":["r","t","g","o","b"],"range":["#a85c5c","#238585","#757575","#c49019","#3d55df"]}},
"stroke":{"field":"rc","type":"nominal","legend":null,"scale":{"domain":["r","t","g","o","b"],"range":["#c66868","#2e9a9a","#8c8c8c","#eaa636","#4668dc"]}}
}
},
{
"data":{"name":"days"},
"mark":{"type":"rect","fill":null,"fillOpacity":0,"stroke":"#4cc4bc","strokeWidth":1,"clip":true},
"encoding":{
"x":{"field":"s","type":"quantitative","title":null},
"x2":{"field":"e","title":null},
"y":{"field":"hi","type":"quantitative","title":null},
"y2":{"field":"lo","title":null}
}
},
{
"data":{"name":"cur"},
"mark":{"type":"rule","strokeWidth":1,"clip":true},
"encoding":{
"y":{"field":"p","type":"quantitative","title":null},
"color":{"field":"k","type":"nominal","legend":null,"scale":{"domain":["a","b"],"range":["#ffffff","#9a9a9a"]}}
}
},
{
"data":{"name":"days"},
"mark":{"type":"text","baseline":"bottom","align":"center","dy":-2,"font":"Liberation Sans","fontSize":16,"color":"#56cdc4","clip":false},
"encoding":{
"x":{"field":"c","type":"quantitative","title":null},
"y":{"field":"hi","type":"quantitative","title":null},
"text":{"field":"hi","type":"quantitative","format":".5f"}
}
},
{
"data":{"name":"days"},
"mark":{"type":"text","baseline":"top","align":"center","dy":2,"font":"Liberation Sans","fontSize":16,"color":"#56cdc4","clip":false},
"encoding":{
"x":{"field":"c","type":"quantitative","title":null},
"y":{"field":"lo","type":"quantitative","title":null},
"text":{"field":"lo","type":"quantitative","format":".5f"}
}
},
{
"data":{"name":"cur"},
"mark":{"type":"rect","fill":"#ffffff","clip":false},
"encoding":{
"x":{"field":"x","type":"quantitative","title":null},
"x2":{"field":"x2","title":null},
"y":{"field":"t","type":"quantitative","title":null},
"y2":{"field":"b","title":null}
}
},
{
"data":{"name":"cur"},
"mark":{"type":"text","align":"left","baseline":"middle","font":"Liberation Sans","fontSize":14,"color":"#000000","clip":false,"dx":5},
"encoding":{
"x":{"field":"x","type":"quantitative","title":null},
"y":{"field":"p","type":"quantitative","title":null},
"text":{"field":"p","type":"quantitative","format":".5f"}
}
}
]
}
